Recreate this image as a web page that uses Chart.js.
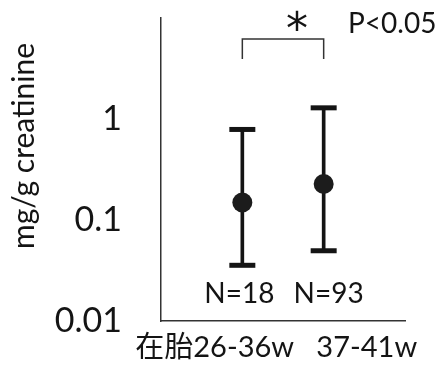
<!DOCTYPE html>
<html>
<head>
<meta charset="utf-8">
<script src="https://cdn.jsdelivr.net/npm/chart.js@4"></script>
<style>
  body { margin: 0; background: #fff; }
</style>
</head>
<body>
<canvas id="Chart" width="443" height="370"></canvas>
<script>
const groupLabels = ['在胎26-36w', '37-41w'];
const groupX = [1, 2];
const nLabels = ['N=18', 'N=93'];
const meanValues = [0.149, 0.227];
const lowerValues = [0.0356, 0.0496];
const upperValues = [0.788, 1.29];
const yTickValues = [0.01, 0.1, 1];
const sigMark = '*';
const pLabel = 'P<0.05';
const yTitle = 'mg/g creatinine';

const ink = '#141414';
const family = "Lato, 'Noto Sans CJK JP', sans-serif";

// whisker = floating bar from lower to upper, caps = flat line points
const whiskers = groupX.map((x, i) => ({ x: x, y: [lowerValues[i], upperValues[i]] }));
const caps = groupX.flatMap((x, i) => [{ x: x, y: lowerValues[i] }, { x: x, y: upperValues[i] }]);
const means = groupX.map((x, i) => ({ x: x, y: meanValues[i] }));

// axis title, significance bracket and the N= labels
const annotations = {
    id: 'annotations',
    afterDraw(chart) {
        const ctx = chart.ctx;
        const x1 = chart.scales.x.getPixelForValue(groupX[0]);
        const x2 = chart.scales.x.getPixelForValue(groupX[1]);
        ctx.save();
        ctx.fillStyle = ink;

        ctx.save();
        ctx.translate(34, 146);
        ctx.rotate(-Math.PI / 2);
        ctx.font = '30px ' + family;
        ctx.textAlign = 'center';
        ctx.textBaseline = 'alphabetic';
        ctx.fillText(yTitle, 0, 0);
        ctx.restore();

        ctx.strokeStyle = '#333';
        ctx.lineWidth = 1.5;
        ctx.beginPath();
        ctx.moveTo(x1, 59);
        ctx.lineTo(x1, 39);
        ctx.lineTo(x2, 39);
        ctx.lineTo(x2, 59);
        ctx.stroke();

        ctx.textAlign = 'center';
        ctx.textBaseline = 'alphabetic';
        ctx.font = "44px 'DejaVu Sans'";
        ctx.fillText(sigMark, (x1 + x2) / 2 + 14, 44);

        ctx.textAlign = 'left';
        ctx.font = '28px ' + family;
        ctx.fillText(pLabel, 348, 33);

        ctx.textAlign = 'center';
        ctx.fillText(nLabels[0], x1 - 3, 303);
        ctx.fillText(nLabels[1], x2 + 5, 303);
        ctx.restore();
    }
};

const ctx = document.getElementById('Chart').getContext('2d');

new Chart(ctx, {
    type: 'scatter',
    data: {
        datasets: [{
            type: 'bar',
            data: whiskers,
            backgroundColor: ink,
            borderWidth: 0,
            barThickness: 3,
            order: 3
        }, {
            data: caps,
            pointStyle: 'line',
            pointRadius: 13,
            borderColor: ink,
            borderWidth: 5,
            order: 2
        }, {
            data: means,
            pointRadius: 10,
            backgroundColor: '#1c1c1c',
            borderWidth: 0,
            order: 1
        }]
    },
    options: {
        responsive: false,
        animation: false,
        layout: { padding: { top: 10, right: 38, left: 0, bottom: 0 } },
        plugins: {
            legend: { display: false },
            tooltip: { enabled: false }
        },
        scales: {
            x: {
                type: 'linear',
                min: 0,
                max: 3,
                offset: false,
                grid: { display: false, drawTicks: false },
                border: { color: '#333', width: 1.5 },
                afterBuildTicks: axis => { axis.ticks = [{ value: 0.66 }, { value: 2.53 }]; },
                afterFit: axis => {
                    axis.height = 49;
                    axis.paddingLeft = 0;
                    axis.paddingRight = 0;
                },
                ticks: {
                    autoSkip: false,
                    maxRotation: 0,
                    padding: 9,
                    color: ink,
                    font: { family: family, size: 29 },
                    callback: (v, i) => groupLabels[i]
                }
            },
            y: {
                type: 'logarithmic',
                min: 0.01,
                max: 10,
                grid: { display: false, drawTicks: false },
                border: { color: '#333', width: 1.5 },
                afterBuildTicks: axis => { axis.ticks = yTickValues.map(v => ({ value: v })); },
                afterFit: axis => {
                    axis.width = 161;
                    axis.paddingTop = 0;
                    axis.paddingBottom = 0;
                },
                ticks: {
                    padding: 39,
                    color: ink,
                    font: { family: family, size: 34 },
                    callback: v => String(v)
                }
            }
        }
    },
    plugins: [annotations]
});
</script>
</body>
</html>
